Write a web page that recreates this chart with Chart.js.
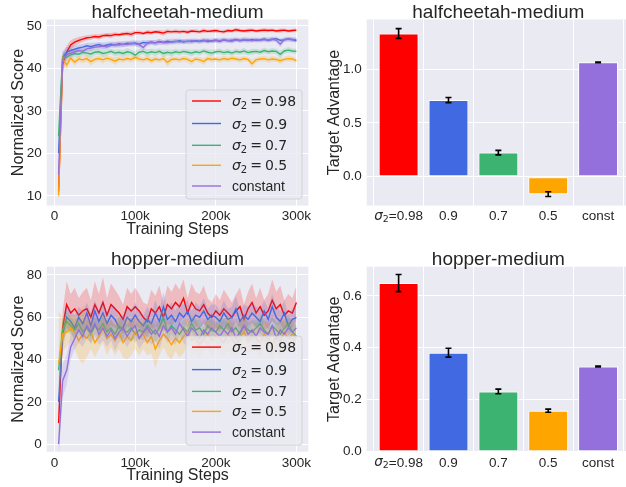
<!DOCTYPE html>
<html><head><meta charset="utf-8">
<script src="https://cdn.jsdelivr.net/npm/chart.js@4.4.1/dist/chart.umd.min.js"></script>
<style>
html,body{margin:0;padding:0;background:#fff;overflow:hidden;}
#wrap{position:relative;width:626px;height:487px;overflow:hidden;background:#fff;}
canvas{position:absolute;left:0;top:0;}
</style></head><body>
<div id="wrap">
<canvas id="c1" width="640" height="487"></canvas>
<canvas id="c2" width="640" height="487"></canvas>
<canvas id="c3" width="640" height="487"></canvas>
<canvas id="c4" width="640" height="487"></canvas>
</div>
<script>
// ---------------- DATA ----------------
const seriesLabels = ['σ2 = 0.98', 'σ2 = 0.9', 'σ2 = 0.7', 'σ2 = 0.5', 'constant'];
const steps = [5,10,15,20,25,30,35,40,45,50,55,60,65,70,75,80,85,90,95,100,
  105,110,115,120,125,130,135,140,145,150,155,160,165,170,175,180,185,190,195,200,
  205,210,215,220,225,230,235,240,245,250,255,260,265,270,275,280,285,290,295,300]; // thousands
const stepTicks = [0, 100, 200, 300];
const stepTickLabels = ['0', '100k', '200k', '300k'];

// halfcheetah-medium
const hcRed = [11,41,43.8,45.5,46.2,46.6,46.9,47.2,47.3,47.5,
  47.4,47.7,47.8,47.7,48.0,47.9,48.1,48.2,48.0,48.4,
  48.4,48.2,48.5,48.4,48.6,48.5,48.3,48.7,48.6,48.7,
  48.6,48.7,48.5,48.8,48.7,48.6,48.9,48.7,48.8,48.9,
  48.7,48.6,48.9,48.8,49.1,48.9,48.8,48.9,49.0,48.8,
  48.9,49.0,48.9,49.0,48.8,48.9,49.0,48.8,48.9,49.0];
const hcRedStd = [3,2.2,1.5,1.1,0.9,0.8,0.7,0.6,0.6,0.5,
  0.6,0.5,0.5,0.6,0.5,0.4,0.5,0.5,0.6,0.5,
  0.5,0.4,0.5,0.5,0.4,0.5,0.6,0.5,0.4,0.5,
  0.5,0.4,0.5,0.4,0.5,0.4,0.5,0.4,0.4,0.5,
  0.4,0.5,0.4,0.4,0.5,0.4,0.4,0.5,0.4,0.4,
  0.4,0.5,0.4,0.4,0.4,0.5,0.4,0.4,0.4,0.4];
const hcBlue = [20,42.5,43.8,44.2,44.5,44.8,45.0,45.3,45.1,45.4,
  45.6,45.2,45.5,45.7,45.5,45.8,45.6,45.9,45.8,46.0,
  45.7,46.1,46.0,46.2,46.0,46.3,46.1,46.4,46.2,46.3,
  46.5,46.2,46.4,46.3,46.5,46.4,46.6,46.3,46.5,46.6,
  46.4,46.7,46.5,46.6,46.8,46.5,46.7,46.6,46.8,46.6,
  46.7,46.9,46.6,46.8,47.0,46.6,46.7,46.9,46.8,46.5];
const hcBlueStd = [4,1.5,1.2,1.0,0.9,0.8,0.8,0.7,0.9,0.7,
  0.6,0.8,0.7,0.6,0.7,0.6,0.7,0.6,0.6,0.7,
  0.8,0.6,0.6,0.5,0.7,0.6,0.5,0.6,0.5,0.6,
  0.5,0.6,0.5,0.6,0.5,0.5,0.6,0.5,0.5,0.5,
  0.6,0.5,0.5,0.6,0.5,0.5,0.6,0.5,0.5,0.5,
  0.5,0.5,0.6,0.5,0.5,0.5,0.5,0.5,0.6,0.5];
const hcGreen = [24,42.8,42.6,43.2,43.5,43.3,43.8,43.6,43.4,43.8,
  43.9,43.5,43.7,44.0,43.6,43.8,43.5,43.9,43.7,43.1,
  43.8,44.0,43.6,43.9,43.7,44.0,43.5,43.8,43.6,43.9,
  43.7,44.0,43.8,43.6,43.9,43.7,44.1,43.8,43.6,43.9,
  44.0,43.7,43.9,43.6,44.0,43.8,44.1,43.7,43.9,44.0,
  43.8,44.2,43.9,44.1,44.0,43.3,44.1,44.3,44.1,44.0];
const hcGreenStd = [5,1.2,1.0,0.8,0.8,0.9,0.7,0.8,0.9,0.7,
  0.7,0.8,0.7,0.6,0.8,0.7,0.8,0.9,0.7,1.0,
  0.8,0.7,0.9,0.7,0.8,0.7,0.9,0.7,0.8,0.7,
  0.7,0.6,0.7,0.8,0.6,0.7,0.6,0.7,0.8,0.6,
  0.7,0.6,0.7,0.6,0.7,0.6,0.7,0.6,0.7,0.6,
  0.6,0.7,0.6,0.7,0.6,0.9,0.6,0.7,0.6,0.6];
const hcOrange = [10,42.3,40.8,42.4,41.5,42.2,42.0,42.3,41.6,42.1,
  42.3,42.0,42.4,42.1,41.7,42.2,42.0,42.3,42.1,42.6,
  42.2,42.0,42.3,41.8,42.2,42.0,42.3,41.4,42.1,42.2,
  42.0,42.3,42.1,41.6,42.2,42.0,41.6,42.3,42.1,42.2,
  42.0,42.3,42.1,42.4,42.2,42.0,42.3,42.1,41.1,42.0,
  42.2,42.3,42.0,42.2,42.1,41.8,42.1,42.3,42.2,41.8];
const hcOrangeStd = [2,1.0,1.3,0.8,0.9,0.7,0.8,0.7,0.9,0.7,
  0.7,0.8,0.7,0.7,0.9,0.7,0.7,0.6,0.7,0.8,
  0.7,0.6,0.7,0.8,0.7,0.6,0.7,1.0,0.7,0.6,
  0.7,0.6,0.7,0.8,0.6,0.7,0.8,0.6,0.7,0.6,
  0.6,0.7,0.6,0.7,0.6,0.7,0.6,0.6,0.9,0.7,
  0.6,0.7,0.6,0.7,0.6,0.7,0.6,0.7,0.6,0.6];
const hcPurple = [15,42.0,43.2,43.6,43.9,44.2,44.0,44.6,44.8,45.0,
  45.1,45.3,45.0,45.4,45.6,45.5,45.7,45.6,45.9,45.8,
  45.6,44.9,45.9,46.1,46.0,46.2,46.1,46.0,46.3,46.4,
  46.2,46.4,46.3,46.5,46.4,46.3,46.5,46.6,46.4,46.6,
  46.5,46.7,46.6,46.4,46.7,46.6,46.8,46.7,46.5,46.8,
  46.6,46.8,46.7,46.9,46.6,45.7,46.8,46.9,46.7,46.8];
const hcPurpleStd = [4,1.5,1.0,0.9,0.8,0.9,0.8,0.7,0.7,0.6,
  0.7,0.6,0.7,0.6,0.6,0.7,0.6,0.6,0.7,0.6,
  0.7,0.9,0.7,0.6,0.6,0.7,0.6,0.6,0.7,0.6,
  0.6,0.5,0.6,0.6,0.5,0.6,0.5,0.6,0.5,0.6,
  0.5,0.6,0.5,0.6,0.5,0.6,0.5,0.6,0.5,0.6,
  0.5,0.6,0.5,0.6,0.5,0.8,0.5,0.6,0.5,0.5];
const hcScoreTicks = [10, 20, 30, 40, 50];

// hopper-medium
const hpRed = [10,55,66,62,64,61,63,64,60,66,
  62,67,61,66,64,62,59,65,63,65,
  63,60,58,64,62,65,60,66,64,67,
  65,69,62,67,64,63,66,62,60,63,
  61,64,62,60,63,65,59,64,67,62,
  65,61,63,68,64,66,61,63,62,67];
const hpRedStd = [5,8,11,9,10,8,9,10,8,11,
  9,12,8,10,9,8,7,9,8,9,
  8,7,8,9,8,10,7,9,8,9,
  8,9,7,9,8,8,9,7,7,8,
  7,9,8,7,8,9,7,8,9,7,
  9,7,8,10,8,9,7,8,7,8];
const hpBlue = [20,52,60,58,55,60,57,62,56,63,
  58,62,57,61,59,55,55,60,58,61,
  58,56,59,57,62,58,65,59,61,58,
  62,60,63,58,61,60,63,59,61,60,
  58,62,59,60,64,58,61,59,62,60,
  58,63,59,65,60,58,62,56,59,60];
const hpBlueStd = [10,7,6,5,6,5,6,5,6,5,
  5,6,5,5,6,5,6,5,5,6,
  5,5,6,5,6,5,7,5,6,5,
  5,6,5,5,6,5,6,5,5,6,
  5,6,5,5,6,5,5,6,5,5,
  6,5,5,6,5,5,6,5,5,6];
const hpGreen = [35,54,58,56,54,57,53,55,52,56,
  54,57,53,55,52,56,54,53,55,52,
  54,53,56,54,52,55,60,53,56,54,
  52,55,53,57,54,55,52,56,54,53,
  56,54,57,53,55,52,56,54,53,55,
  57,54,52,56,54,52,55,57,53,51];
const hpGreenStd = [8,5,5,4,4,5,4,4,5,4,
  4,5,4,4,4,5,4,4,5,4,
  4,4,5,4,4,4,5,4,4,4,
  5,4,4,4,5,4,4,4,5,4,
  4,5,4,4,4,5,4,4,5,4,
  4,5,4,4,4,5,4,4,4,5];
const hpOrange = [38,52,53,55,53,49,52,50,53,48,
  51,55,50,52,49,53,48,51,49,53,
  50,52,48,51,45,49,52,50,47,50,
  48,51,53,49,51,47,50,52,49,51,
  50,48,52,50,47,51,53,49,51,50,
  48,52,50,47,51,49,53,50,52,50];
const hpOrangeStd = [25,8,7,6,8,9,14,9,8,7,
  6,7,8,6,7,8,7,11,7,8,
  8,7,6,8,9,7,6,8,7,6,
  7,8,6,7,8,7,6,7,8,6,
  7,6,8,7,6,7,8,6,7,6,
  8,6,7,8,6,9,7,6,7,6];
const hpPurple = [0,30,35,46,50,54,51,56,53,57,
  52,55,51,54,50,53,55,51,54,56,
  50,53,55,52,54,51,56,53,55,52,
  57,54,51,55,53,50,54,52,55,53,
  51,54,52,55,50,53,56,52,54,51,
  55,53,52,56,50,54,52,55,53,55];
const hpPurpleStd = [8,8,7,6,5,6,5,6,5,6,
  5,6,5,5,6,5,6,5,5,6,
  5,5,6,5,5,6,5,5,6,5,
  5,6,5,5,6,5,5,6,5,5,
  6,5,5,6,5,5,6,5,5,6,
  5,5,6,5,5,6,5,5,6,5];
const hpScoreTicks = [0, 20, 40, 60, 80];

// target advantage bars
const barCategories = ['σ₂=0.98', '0.9', '0.7', '0.5', 'const'];
const hcAdv = [1.33, 0.712, 0.224, -0.162, 1.062];
const hcAdvErr = [0.045, 0.024, 0.021, 0.022, 0.004];
const hcAdvTicks = [0.0, 0.5, 1.0];
const hpAdv = [0.649, 0.381, 0.232, 0.158, 0.328];
const hpAdvErr = [0.033, 0.017, 0.009, 0.006, 0.002];
const hpAdvTicks = [0.0, 0.2, 0.4, 0.6];

// ---------------- STYLE ----------------
const W = 640, H = 487;
const FONT = '"Liberation Sans", Arial, sans-serif';
const MATH = '"DejaVu Sans", sans-serif';
const INK = '#262626';
const BG = '#EAEAF2';
const TICK = 13.5;
const COLORS = ['#ff0000', '#4169e1', '#3cb371', '#ffa500', '#9370db'];
Chart.defaults.font.family = FONT;
Chart.defaults.color = INK;

function rgba(hex, a) {
  const n = parseInt(hex.slice(1), 16);
  return `rgba(${(n >> 16) & 255},${(n >> 8) & 255},${n & 255},${a})`;
}

const bgPlugin = {
  id: 'bgArea',
  beforeDraw(c) {
    const a = c.chartArea, x = c.ctx;
    x.save(); x.fillStyle = BG;
    x.fillRect(a.left, a.top, a.right - a.left, a.bottom - a.top);
    x.restore();
  }
};

function drawLabel(ctx, text, x, y) {
  const m = /^σ2 = (.+)$/.exec(text);
  if (!m) { ctx.font = '14px ' + FONT; ctx.fillText(text, x, y); return; }
  ctx.font = 'italic 14px ' + MATH; ctx.fillText('σ', x, y); x += ctx.measureText('σ').width;
  ctx.font = '10px ' + MATH; ctx.fillText('2', x, y + 3); x += ctx.measureText('2').width + 3;
  ctx.font = '14px ' + MATH; ctx.fillText('=', x, y); x += ctx.measureText('=').width + 3;
  ctx.fillText(m[1], x, y);
}

function roundRect(ctx, x, y, w, h, r) {
  ctx.beginPath();
  ctx.moveTo(x + r, y); ctx.lineTo(x + w - r, y); ctx.arcTo(x + w, y, x + w, y + r, r);
  ctx.lineTo(x + w, y + h - r); ctx.arcTo(x + w, y + h, x + w - r, y + h, r);
  ctx.lineTo(x + r, y + h); ctx.arcTo(x, y + h, x, y + h - r, r);
  ctx.lineTo(x, y + r); ctx.arcTo(x, y, x + r, y, r); ctx.closePath();
}

function decoPlugin(cfg) {
  return {
    id: 'deco',
    afterDatasetsDraw(c) {
      const ctx = c.ctx, a = c.chartArea;
      ctx.save();
      if (cfg.legend) {
        const bw = 116, bh = 109;
        const bx = a.right - 6.3 - bw, by = a.bottom - 6.6 - bh;
        roundRect(ctx, bx, by, bw, bh, 3);
        ctx.fillStyle = 'rgba(234,234,242,0.8)'; ctx.fill();
        ctx.strokeStyle = 'rgba(204,204,204,0.8)'; ctx.lineWidth = 1; ctx.stroke();
        const rows = [11, 33.5, 55.3, 75.3, 96];
        cfg.legend.forEach((lab, i) => {
          const y = by + rows[i];
          ctx.strokeStyle = COLORS[i]; ctx.lineWidth = 1.4;
          ctx.beginPath(); ctx.moveTo(bx + 6, y); ctx.lineTo(bx + 35, y); ctx.stroke();
          ctx.fillStyle = INK; ctx.textAlign = 'left'; ctx.textBaseline = 'alphabetic';
          drawLabel(ctx, lab, bx + 46, y + 5);
        });
      }
      if (cfg.err) {
        const xs = c.scales.x, ys = c.scales.y;
        ctx.strokeStyle = '#000'; ctx.lineWidth = 1.6;
        cfg.vals.forEach((v, i) => {
          const px = xs.getPixelForValue(i);
          const y1 = ys.getPixelForValue(v - cfg.err[i]), y2 = ys.getPixelForValue(v + cfg.err[i]);
          ctx.beginPath();
          ctx.moveTo(px, y1); ctx.lineTo(px, y2);
          ctx.moveTo(px - 3, y1); ctx.lineTo(px + 3, y1);
          ctx.moveTo(px - 3, y2); ctx.lineTo(px + 3, y2);
          ctx.stroke();
        });
      }
      ctx.restore();
    },
    afterDraw(c) {
      const ctx = c.ctx, a = c.chartArea;
      ctx.save();
      ctx.fillStyle = INK; ctx.textBaseline = 'alphabetic'; ctx.textAlign = 'center';
      ctx.font = '19px ' + FONT;
      ctx.fillText(cfg.title, (a.left + a.right) / 2, a.top - 1.5);
      if (cfg.xlabel) {
        ctx.font = '16px ' + FONT;
        ctx.fillText(cfg.xlabel, (a.left + a.right) / 2, a.bottom + 28);
      }
      if (cfg.mathTick) {
        // first category label with an italic sigma and a true subscript
        const m = /^σ₂(.*)$/.exec(barCategories[0]);
        const px = c.scales.x.getPixelForValue(0);
        const y = a.bottom + 3 + TICK * 1.2 / 2;
        ctx.textBaseline = 'middle'; ctx.textAlign = 'left';
        ctx.font = 'italic ' + TICK + 'px ' + MATH; const w1 = ctx.measureText('σ').width;
        ctx.font = (TICK * 0.7) + 'px ' + MATH; const w2 = ctx.measureText('2').width;
        ctx.font = TICK + 'px ' + FONT; const w3 = ctx.measureText(m[1]).width;
        let x = px - (w1 + w2 + w3) / 2;
        ctx.font = 'italic ' + TICK + 'px ' + MATH; ctx.fillText('σ', x, y); x += w1;
        ctx.font = (TICK * 0.7) + 'px ' + MATH; ctx.fillText('2', x, y + 3); x += w2;
        ctx.font = TICK + 'px ' + FONT; ctx.fillText(m[1], x, y);
        ctx.textAlign = 'center'; ctx.textBaseline = 'alphabetic';
      }
      ctx.font = '16px ' + FONT;
      ctx.translate(a.left - cfg.ylabelGap, (a.top + a.bottom) / 2);
      ctx.rotate(-Math.PI / 2);
      ctx.fillText(cfg.ylabel, 0, 0);
      ctx.restore();
    }
  };
}

function axisCommon() {
  return {
    grid: { color: '#ffffff', lineWidth: 1, drawTicks: false },
    border: { display: false },
  };
}

function makeLineChart(id, area, series, yMin, yMax, yTicks, title) {
  const datasets = [];
  series.forEach((s, k) => {
    const base = 50 - 10 * k;
    datasets.push({ label: s.label + ' hi', data: steps.map((x, i) => ({ x, y: s.mean[i] + s.std[i] })),
      borderColor: 'rgba(0,0,0,0)', borderWidth: 0, pointRadius: 0, fill: false, order: base + 2 });
    datasets.push({ label: s.label + ' lo', data: steps.map((x, i) => ({ x, y: s.mean[i] - s.std[i] })),
      borderColor: 'rgba(0,0,0,0)', borderWidth: 0, pointRadius: 0, fill: '-1',
      backgroundColor: rgba(COLORS[k], 0.2), order: base + 1 });
    datasets.push({ label: s.label, data: steps.map((x, i) => ({ x, y: s.mean[i] })),
      borderColor: COLORS[k], borderWidth: 1.4, pointRadius: 0, fill: false, order: base });
  });
  const YW = 40, XH = 30;
  return new Chart(document.getElementById(id), {
    type: 'line',
    data: { datasets },
    options: {
      responsive: false, animation: false, events: [],
      layout: { padding: { left: area.left - YW, top: area.top, right: W - area.right, bottom: H - area.bottom - XH } },
      plugins: { legend: { display: false }, tooltip: { enabled: false }, title: { display: false } },
      elements: { line: { tension: 0 } },
      scales: {
        x: Object.assign(axisCommon(), {
          type: 'linear', min: -9.75, max: 314.75,
          afterFit(s) { s.height = XH; },
          afterBuildTicks(s) { s.ticks = stepTicks.map(v => ({ value: v })); },
          ticks: { callback: (v, i) => stepTickLabels[i], font: { size: TICK }, padding: 3, maxRotation: 0, autoSkip: false, color: INK }
        }),
        y: Object.assign(axisCommon(), {
          min: yMin, max: yMax,
          afterFit(s) { s.width = YW; },
          afterBuildTicks(s) { s.ticks = yTicks.map(v => ({ value: v })); },
          ticks: { callback: v => String(v), font: { size: TICK }, padding: 5, autoSkip: false, color: INK }
        })
      }
    },
    plugins: [bgPlugin, decoPlugin({ title, xlabel: 'Training Steps', ylabel: 'Normalized Score', ylabelGap: 23.4, legend: seriesLabels })]
  });
}

function makeBarChart(id, area, vals, errs, yMin, yMax, yTicks, digits, title) {
  const YW = 40, XH = 30;
  return new Chart(document.getElementById(id), {
    type: 'bar',
    data: { datasets: [{
      label: 'Target Advantage',
      data: vals.map((v, i) => ({ x: i, y: v })),
      backgroundColor: COLORS, borderColor: '#ffffff', borderWidth: 1, borderSkipped: false,
      categoryPercentage: 1.0, barPercentage: 0.8
    }] },
    options: {
      responsive: false, animation: false, events: [],
      layout: { padding: { left: area.left - YW, top: area.top, right: W - area.right, bottom: H - area.bottom - XH } },
      plugins: { legend: { display: false }, tooltip: { enabled: false }, title: { display: false } },
      scales: {
        x: Object.assign(axisCommon(), {
          type: 'linear', min: -0.64, max: 4.64, offset: false,
          afterFit(s) { s.height = XH; },
          afterBuildTicks(s) { s.ticks = barCategories.map((c, i) => ({ value: i })); },
          ticks: { callback: (v, i) => barCategories[i], font: { size: TICK }, padding: 3, maxRotation: 0, autoSkip: false,
            color: (ctx) => ctx.index === 0 ? 'rgba(0,0,0,0)' : INK }
        }),
        y: Object.assign(axisCommon(), {
          min: yMin, max: yMax,
          afterFit(s) { s.width = YW; },
          afterBuildTicks(s) { s.ticks = yTicks.map(v => ({ value: v })); },
          ticks: { callback: v => v.toFixed(digits), font: { size: TICK }, padding: 5, autoSkip: false, color: INK }
        })
      }
    },
    plugins: [bgPlugin, decoPlugin({ title, ylabel: 'Target Advantage', ylabelGap: 27.7, vals, err: errs, mathTick: true })]
  });
}

const hcSeries = [
  { label: seriesLabels[0], mean: hcRed, std: hcRedStd },
  { label: seriesLabels[1], mean: hcBlue, std: hcBlueStd },
  { label: seriesLabels[2], mean: hcGreen, std: hcGreenStd },
  { label: seriesLabels[3], mean: hcOrange, std: hcOrangeStd },
  { label: seriesLabels[4], mean: hcPurple, std: hcPurpleStd },
];
const hpSeries = [
  { label: seriesLabels[0], mean: hpRed, std: hpRedStd },
  { label: seriesLabels[1], mean: hpBlue, std: hpBlueStd },
  { label: seriesLabels[2], mean: hpGreen, std: hpGreenStd },
  { label: seriesLabels[3], mean: hpOrange, std: hpOrangeStd },
  { label: seriesLabels[4], mean: hpPurple, std: hpPurpleStd },
];

makeLineChart('c1', { left: 46.7, top: 19.5, right: 308.3, bottom: 205.6 }, hcSeries, 7.7, 51.5, hcScoreTicks, 'halfcheetah-medium');
makeBarChart('c2', { left: 366.7, top: 19.5, right: 630, bottom: 205.6 }, hcAdv, hcAdvErr, -0.268, 1.46, hcAdvTicks, 1, 'halfcheetah-medium');
makeLineChart('c3', { left: 46.7, top: 266.7, right: 308.3, bottom: 451.7 }, hpSeries, -3.5, 83.9, hpScoreTicks, 'hopper-medium');
makeBarChart('c4', { left: 366.7, top: 266.7, right: 630, bottom: 451.7 }, hpAdv, hpAdvErr, 0, 0.712, hpAdvTicks, 1, 'hopper-medium');
</script>
</body></html>
